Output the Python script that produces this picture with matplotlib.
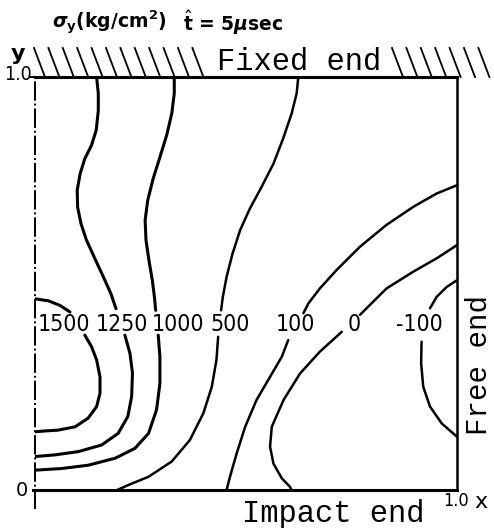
import matplotlib
matplotlib.use("Agg")
import matplotlib.pyplot as plt
import numpy as np

# contour lines (x, y in 0..1); each level has two
# pieces because the value label sits in a gap in the line
levels = ["1500", "1250", "1000", "500", "100", "0", "-100"]

c1500_a_x = [0.0, 0.032, 0.059, 0.083]
c1500_a_y = [0.463, 0.458, 0.447, 0.431]
c1500_b_x = [0.118, 0.134, 0.146, 0.154, 0.154, 0.146, 0.126, 0.095, 0.055, 0.024, 0.0]
c1500_b_y = [0.375, 0.347, 0.315, 0.274, 0.234, 0.202, 0.174, 0.153, 0.145, 0.143, 0.141]

c1250_a_x = [0.146, 0.150, 0.150, 0.145, 0.134, 0.118, 0.107, 0.100, 0.101, 0.109,
             0.122, 0.142, 0.162, 0.180, 0.192]
c1250_a_y = [1.0, 0.960, 0.919, 0.871, 0.835, 0.802, 0.766, 0.726, 0.685, 0.645,
             0.605, 0.560, 0.516, 0.475, 0.439]
c1250_b_x = [0.213, 0.225, 0.231, 0.229, 0.220, 0.197, 0.158, 0.103, 0.047, 0.0]
c1250_b_y = [0.375, 0.331, 0.283, 0.226, 0.178, 0.137, 0.109, 0.093, 0.085, 0.081]

c1000_a_x = [0.330, 0.330, 0.324, 0.312, 0.296, 0.280, 0.267, 0.261, 0.263, 0.270,
             0.278, 0.283, 0.286]
c1000_a_y = [1.0, 0.960, 0.911, 0.859, 0.806, 0.754, 0.701, 0.653, 0.605, 0.556,
             0.508, 0.467, 0.435]
c1000_b_x = [0.292, 0.296, 0.296, 0.288, 0.269, 0.237, 0.190, 0.126, 0.063, 0.0]
c1000_b_y = [0.375, 0.323, 0.258, 0.194, 0.137, 0.101, 0.077, 0.060, 0.052, 0.048]

c500_a_x = [0.624, 0.620, 0.608, 0.588, 0.565, 0.537, 0.509, 0.486, 0.468, 0.454,
            0.445, 0.441]
c500_a_y = [1.0, 0.960, 0.911, 0.851, 0.790, 0.734, 0.681, 0.629, 0.572, 0.516,
            0.467, 0.435]
c500_b_x = [0.434, 0.430, 0.419, 0.399, 0.367, 0.324, 0.269, 0.221, 0.195]
c500_b_y = [0.371, 0.315, 0.250, 0.186, 0.121, 0.069, 0.032, 0.012, 0.0]

c100_a_x = [1.0, 0.952, 0.897, 0.833, 0.770, 0.715, 0.675, 0.648, 0.636]
c100_a_y = [0.738, 0.718, 0.686, 0.642, 0.589, 0.533, 0.488, 0.452, 0.428]
c100_b_x = [0.600, 0.585, 0.557, 0.525, 0.498, 0.478, 0.462, 0.454]
c100_b_y = [0.363, 0.323, 0.274, 0.218, 0.153, 0.089, 0.032, 0.0]

c0_a_x = [1.0, 0.952, 0.897, 0.833, 0.770]
c0_a_y = [0.593, 0.561, 0.529, 0.488, 0.424]
c0_b_x = [0.727, 0.675, 0.628, 0.589, 0.561, 0.557, 0.565, 0.585, 0.604, 0.608]
c0_b_y = [0.383, 0.335, 0.282, 0.218, 0.153, 0.105, 0.064, 0.028, 0.008, 0.0]

cm100_a_x = [1.0, 0.976, 0.952, 0.936]
cm100_a_y = [0.508, 0.492, 0.468, 0.440]
cm100_b_x = [0.916, 0.915, 0.920, 0.936, 0.964, 1.0]
cm100_b_y = [0.359, 0.307, 0.250, 0.202, 0.161, 0.129]

label_x = [0.069, 0.206, 0.339, 0.462, 0.618, 0.756, 0.912]
label_y = [0.400, 0.400, 0.400, 0.400, 0.400, 0.400, 0.400]

pieces = [
    (c1500_a_x, c1500_a_y), (c1500_b_x, c1500_b_y),
    (c1250_a_x, c1250_a_y), (c1250_b_x, c1250_b_y),
    (c1000_a_x, c1000_a_y), (c1000_b_x, c1000_b_y),
    (c500_a_x, c500_a_y), (c500_b_x, c500_b_y),
    (c100_a_x, c100_a_y), (c100_b_x, c100_b_y),
    (c0_a_x, c0_a_y), (c0_b_x, c0_b_y),
    (cm100_a_x, cm100_a_y), (cm100_b_x, cm100_b_y),
]

W, H = 494, 528
fig = plt.figure(figsize=(W / 100, H / 100), dpi=100)
# plot box: x 35..457 px, y 77..490 px
ax = fig.add_axes([35 / W, 1 - 490 / H, 422 / W, 413 / H])
ax.set_xlim(0, 1)
ax.set_ylim(0, 1)
ax.axis("off")

for i, (px, py) in enumerate(pieces):
    # the high-stress lines on the left are drawn heavier in the original
    lw = 2.2 if i < 6 else 1.8
    ax.plot(px, py, color="black", lw=lw, solid_joinstyle="round",
            solid_capstyle="round")

lab_font = ["DejaVu Sans"]
for t, x, y in zip(levels, label_x, label_y):
    ax.text(x, y, t, ha="center", va="center", fontsize=16.5,
            family=lab_font, fontstretch="condensed")

# box
ax.plot([0, 1.0], [1.0, 1.0], color="black", lw=2.2, clip_on=False)
ax.plot([1.0, 1.0], [0, 1.0], color="black", lw=1.8, clip_on=False)
ax.plot([-0.005, 1.0], [0, 0], color="black", lw=2.2, clip_on=False)
ax.plot([0, 0], [-0.045, 1.0], color="black", lw=1.4, clip_on=False,
        linestyle=(0, (10, 1.5, 1, 1.5)))
ax.plot([-0.012, 0], [1.0, 1.0], color="black", lw=1.4, clip_on=False)

# hatching of the fixed end
def px2d(x, y):
    return (x - 35) / 422, (490 - y) / 413

for xb in list(np.arange(45, 205, 14.4)) + list(np.arange(403, 495, 14.4)):
    x0, y0 = px2d(xb - 11, 48)
    x1, y1 = px2d(xb, 77)
    ax.plot([x0, x1], [y0, y1], color="black", lw=1.3, clip_on=False)

mono = ["Liberation Mono", "DejaVu Sans Mono"]
fig.text(299 / W, 1 - 62 / H, "Fixed end", ha="center", va="center",
         fontsize=22, family=mono)
fig.text(333 / W, 1 - 514 / H, "Impact end", ha="center", va="center",
         fontsize=22, family=mono)
fig.text(479 / W, 1 - 365 / H, "Free end", ha="center", va="center",
         fontsize=21, family=mono, rotation=90)

fig.text(52 / W, 1 - 23 / H, r"$\boldsymbol{\sigma}_\mathbf{y}$(kg/cm$^\mathbf{2}$)",
         ha="left", va="center", fontsize=13.5, fontweight="bold")
fig.text(183 / W, 1 - 23 / H, r"$\hat{\mathbf{t}}$ = 5$\boldsymbol{\mu}$sec",
         ha="left", va="center", fontsize=13.5, fontweight="bold")

fig.text(18 / W, 1 - 54 / H, "y", ha="center", va="center", fontsize=16,
         fontweight="bold")
fig.text(18 / W, 1 - 75 / H, "1.0", ha="center", va="center", fontsize=14,
         family=lab_font, fontstretch="condensed")
fig.text(22 / W, 1 - 491 / H, "0", ha="center", va="center", fontsize=14)
fig.text(456 / W, 1 - 501 / H, "1.0", ha="center", va="center", fontsize=13,
         family=lab_font, fontstretch="condensed")
fig.text(481 / W, 1 - 502 / H, "x", ha="center", va="center", fontsize=16)

fig.savefig("out.png", dpi=100)
